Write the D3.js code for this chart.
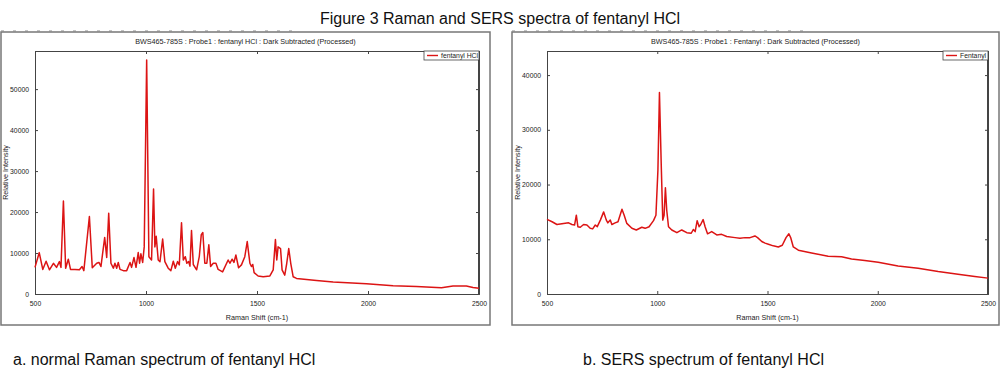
<!DOCTYPE html>
<html lang="en">
<head>
<meta charset="UTF-8">
<script src="https://cdn.jsdelivr.net/npm/d3@7"></script>
<title>Figure 3 Raman and SERS spectra of fentanyl HCl</title>
<style>
	body { margin: 0; background: #fff; font-family: "Liberation Sans", Arial, sans-serif; }
	svg { display: block; }
	.small { font-family: "Liberation Sans Narrow", "Arial Narrow", "Liberation Sans", sans-serif; font-size: 7.2px; fill: #222; }
	.tick text.small { font-size: 6.8px; }
	.caption { font-size: 16px; fill: #111; }
</style>
</head>
<body>
<svg id="fig" width="1000" height="370"></svg>
<script>
// normal Raman spectrum of fentanyl HCl
const ramanShift = [500, 519, 535, 550, 565, 583, 597, 610, 617, 628, 638, 650, 660, 680, 700, 712, 720, 745, 758, 778, 788, 797, 814, 823, 832, 842, 853, 860, 868, 875, 883, 898, 913, 928, 935, 946, 955, 965, 971, 977, 985, 992, 1003, 1013, 1025, 1034, 1040, 1046, 1055, 1063, 1075, 1085, 1100, 1112, 1123, 1132, 1142, 1150, 1160, 1168, 1177, 1184, 1192, 1198, 1205, 1213, 1228, 1240, 1249, 1256, 1265, 1274, 1283, 1291, 1303, 1315, 1325, 1345, 1370, 1378, 1388, 1396, 1405, 1417, 1430, 1445, 1456, 1468, 1475, 1481, 1487, 1505, 1528, 1558, 1573, 1583, 1589, 1595, 1606, 1613, 1625, 1634, 1643, 1652, 1663, 1678, 1768, 1843, 1993, 2113, 2218, 2308, 2331, 2383, 2443, 2473, 2500];
const ramanIntensity = [6500, 10100, 6000, 8000, 5900, 7500, 6500, 7900, 6500, 22700, 6300, 8500, 6000, 6000, 5900, 6700, 5700, 18900, 6400, 7500, 7700, 6700, 13800, 8900, 19700, 7500, 6300, 7500, 6300, 7700, 6000, 5700, 5700, 7700, 6500, 8900, 6500, 10100, 7500, 9800, 7700, 11500, 57100, 9100, 8300, 25600, 11500, 14100, 8300, 7900, 13400, 7900, 6300, 5700, 8000, 6300, 7900, 7100, 17400, 8300, 9100, 7500, 7900, 6800, 15500, 7200, 5900, 9100, 14500, 15000, 7500, 7500, 12000, 6700, 7500, 7500, 6000, 5400, 8300, 7500, 8500, 7700, 9500, 6400, 7100, 9100, 12800, 7500, 6700, 7200, 5200, 4400, 4200, 4400, 5900, 13300, 8300, 11500, 11100, 5900, 4600, 7500, 11100, 7500, 4200, 3800, 3300, 2900, 2500, 2000, 1800, 1600, 1550, 1950, 1950, 1600, 1400];

// SERS spectrum of fentanyl HCl
const sersShift = [500, 523, 545, 575, 598, 613, 625, 633, 640, 651, 666, 681, 696, 707, 719, 728, 742, 757, 769, 776, 787, 794, 809, 822, 840, 850, 862, 885, 905, 930, 945, 963, 983, 994, 1003, 1010, 1018, 1025, 1031, 1037, 1043, 1051, 1066, 1089, 1111, 1134, 1154, 1164, 1172, 1181, 1190, 1197, 1208, 1217, 1228, 1247, 1270, 1292, 1315, 1353, 1375, 1398, 1421, 1443, 1455, 1474, 1489, 1504, 1526, 1549, 1567, 1584, 1597, 1606, 1617, 1640, 1700, 1775, 1836, 1881, 1941, 2002, 2092, 2183, 2274, 2364, 2440, 2500];
const sersIntensity = [13640, 13200, 12700, 12900, 13000, 12700, 12600, 14400, 12300, 12200, 12700, 12600, 12000, 11900, 12600, 12300, 13500, 15000, 13500, 13000, 13500, 12700, 13000, 13200, 15500, 14400, 12900, 12000, 11700, 12200, 12000, 12300, 13400, 14400, 22600, 36800, 23700, 13500, 14400, 19400, 15300, 12300, 11700, 11200, 11700, 11200, 11100, 11800, 11400, 13400, 12300, 12700, 13600, 12300, 11000, 11400, 10800, 10900, 10500, 10300, 10200, 10300, 10300, 10600, 10300, 9600, 9300, 9100, 8800, 8600, 8900, 10300, 11000, 10200, 8600, 8000, 7500, 6900, 6800, 6400, 6100, 5800, 5100, 4700, 4100, 3600, 3200, 2900];

const xTicks = [500, 1000, 1500, 2000, 2500];
const ramanYTicks = [0, 10000, 20000, 30000, 40000, 50000];
const sersYTicks = [0, 10000, 20000, 30000, 40000];

const svg = d3.select('#fig');
const red = '#dc1414';

svg.append('text')
	.attr('x', 500).attr('y', 24)
	.attr('text-anchor', 'middle')
	.style('font-size', '16px').style('fill', '#111')
	.text('Figure 3 Raman and SERS spectra of fentanyl HCl');

function drawPanel(cfg) {
	const g = svg.append('g');
	const f = cfg.frame;
	// outer frame
	g.append('rect')
		.attr('x', f.x).attr('y', f.y).attr('width', f.w).attr('height', f.h)
		.attr('fill', 'none').attr('stroke', '#777').attr('stroke-width', 1.5);
	g.append('line')
		.attr('x1', f.x).attr('x2', f.x + f.w * 0.6).attr('y1', f.y - 1).attr('y2', f.y - 1)
		.attr('stroke', '#888').attr('stroke-width', 1).attr('stroke-dasharray', '3,9');

	const x = d3.scaleLinear().domain([500, 2500]).range([cfg.x0, cfg.x1]);
	const y = d3.scaleLinear().domain([0, cfg.yMax]).range([cfg.y1, cfg.y0]);

	// axes with inward ticks on all four sides
	const fmt = d3.format('d');
	g.append('g').attr('transform', `translate(0,${cfg.y1})`)
		.call(d3.axisBottom(x).tickValues(xTicks).tickSize(-3).tickPadding(7).tickFormat(fmt));
	g.append('g').attr('transform', `translate(0,${cfg.y0})`)
		.call(d3.axisTop(x).tickValues(xTicks).tickSize(-3).tickFormat(''));
	g.append('g').attr('transform', `translate(${cfg.x0},0)`)
		.call(d3.axisLeft(y).tickValues(cfg.yTicks).tickSize(-3).tickPadding(6).tickFormat(fmt));
	g.append('g').attr('transform', `translate(${cfg.x1},0)`)
		.call(d3.axisRight(y).tickValues(cfg.yTicks).tickSize(-3).tickFormat(''));
	g.selectAll('.domain').attr('stroke', '#444');
	g.selectAll('.tick line').attr('stroke', '#444');
	g.selectAll('.tick text').attr('class', 'small');
	g.selectAll('g').attr('font-family', null).attr('font-size', null);
	g.append('line')
		.attr('x1', cfg.x1).attr('x2', cfg.x1).attr('y1', cfg.y0).attr('y2', cfg.y1)
		.attr('stroke', '#444').attr('stroke-width', 2);

	// spectrum
	const pts = cfg.xs.map((v, i) => [v, cfg.ys[i]]);
	g.append('path')
		.datum(pts)
		.attr('fill', 'none').attr('stroke', red).attr('stroke-width', 1.5)
		.attr('stroke-linejoin', 'round')
		.attr('d', d3.line().x(d => x(d[0])).y(d => y(d[1])));

	// texts
	g.append('text').attr('class', 'small')
		.attr('x', f.x + f.w / 2).attr('y', 44).attr('text-anchor', 'middle')
		.text(cfg.title);
	g.append('text').attr('class', 'small')
		.attr('x', (cfg.x0 + cfg.x1) / 2).attr('y', 320).attr('text-anchor', 'middle')
		.text('Raman Shift (cm-1)');
	g.append('text').attr('class', 'small')
		.attr('transform', `translate(${cfg.yTitleX},${(cfg.y0 + cfg.y1) / 2}) rotate(-90)`)
		.attr('text-anchor', 'middle')
		.text('Relative Intensity');

	// legend
	const lx = cfg.x1 - cfg.legendW;
	g.append('rect')
		.attr('x', lx).attr('y', cfg.y0).attr('width', cfg.legendW).attr('height', 9)
		.attr('fill', '#fff').attr('stroke', '#444').attr('stroke-width', 0.8);
	g.append('line')
		.attr('x1', lx + 3).attr('x2', lx + 14).attr('y1', cfg.y0 + 4.5).attr('y2', cfg.y0 + 4.5)
		.attr('stroke', red).attr('stroke-width', 1.4);
	g.append('text').attr('class', 'small')
		.attr('x', lx + 17).attr('y', cfg.y0 + 7).style('font-size', '6.8px')
		.text(cfg.legend);
}

drawPanel({
	frame: { x: 1, y: 32, w: 489, h: 293 },
	x0: 35, x1: 479, y0: 51, y1: 294, yMax: 59300,
	xs: ramanShift, ys: ramanIntensity, yTicks: ramanYTicks,
	title: 'BWS465-785S : Probe1 : fentanyl HCl : Dark Subtracted (Processed)',
	legend: 'fentanyl HCl', legendW: 55, yTitleX: 8
});

drawPanel({
	frame: { x: 512, y: 32, w: 487, h: 293 },
	x0: 547, x1: 988, y0: 51, y1: 294, yMax: 44400,
	xs: sersShift, ys: sersIntensity, yTicks: sersYTicks,
	title: 'BWS465-785S : Probe1 : Fentanyl : Dark Subtracted (Processed)',
	legend: 'Fentanyl', legendW: 45, yTitleX: 520
});

svg.append('text').attr('class', 'caption')
	.attr('x', 13).attr('y', 365)
	.text('a. normal Raman spectrum of fentanyl HCl');
svg.append('text').attr('class', 'caption')
	.attr('x', 583).attr('y', 365)
	.text('b. SERS spectrum of fentanyl HCl');
</script>
</body>
</html>
